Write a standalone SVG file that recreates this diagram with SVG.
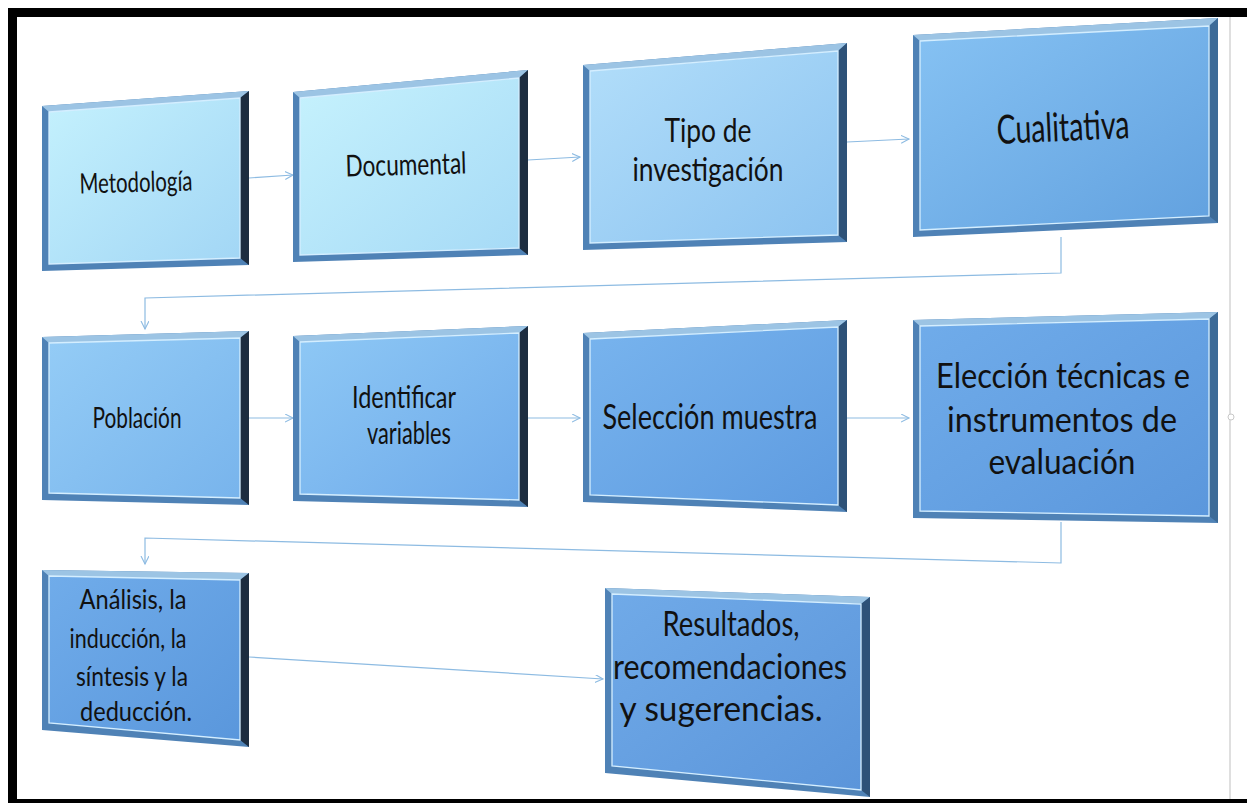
<svg xmlns="http://www.w3.org/2000/svg" width="1247" height="803" viewBox="0 0 1247 803">
<defs>
<style>
.frame{fill:#4f82b6}
.top{fill:#9cc4e4}
.rt{fill:#1d2d40}
.rtm{fill:#2e5278}
.rtl{fill:#3d6b98}
.in{stroke:#d4eeff;stroke-width:1.3}
.lbl{font-family:Lato,"Open Sans","Liberation Sans",sans-serif;fill:#111;text-anchor:middle}
.con{fill:none;stroke:#8dbbe2;stroke-width:1.2}
</style>
<marker id="arr" markerWidth="10" markerHeight="10" refX="8" refY="4" orient="auto" markerUnits="userSpaceOnUse">
<path d="M0,0 L8,4 L0,8" fill="none" stroke="#8dbbe2" stroke-width="1.1"/>
</marker>
<linearGradient id="g1" x1="0" y1="0" x2="1" y2="1"><stop offset="0" stop-color="#c4f1fd"/><stop offset="1" stop-color="#a2d6f5"/></linearGradient>
<linearGradient id="g2" x1="0" y1="0" x2="1" y2="1"><stop offset="0" stop-color="#c6f2fd"/><stop offset="1" stop-color="#a6daf6"/></linearGradient>
<linearGradient id="g3" x1="0" y1="0" x2="1" y2="1"><stop offset="0" stop-color="#b2defa"/><stop offset="1" stop-color="#8cc3f0"/></linearGradient>
<linearGradient id="g4" x1="0" y1="0" x2="1" y2="1"><stop offset="0" stop-color="#86c2f3"/><stop offset="1" stop-color="#62a1df"/></linearGradient>
<linearGradient id="g5" x1="0" y1="0" x2="1" y2="1"><stop offset="0" stop-color="#94ccf6"/><stop offset="1" stop-color="#78b4ec"/></linearGradient>
<linearGradient id="g6" x1="0" y1="0" x2="1" y2="1"><stop offset="0" stop-color="#8ec8f5"/><stop offset="1" stop-color="#6eaaea"/></linearGradient>
<linearGradient id="g7" x1="0" y1="0" x2="1" y2="1"><stop offset="0" stop-color="#78b4ee"/><stop offset="1" stop-color="#5e9be0"/></linearGradient>
<linearGradient id="g8" x1="0" y1="0" x2="1" y2="1"><stop offset="0" stop-color="#70acea"/><stop offset="1" stop-color="#5b97dc"/></linearGradient>
<linearGradient id="g9" x1="0" y1="0" x2="1" y2="1"><stop offset="0" stop-color="#70acea"/><stop offset="1" stop-color="#5a97dc"/></linearGradient>
<linearGradient id="g10" x1="0" y1="0" x2="1" y2="1"><stop offset="0" stop-color="#70aae8"/><stop offset="1" stop-color="#5b95da"/></linearGradient>
</defs>
<rect width="1247" height="803" fill="#ffffff"/>

<g id="frame-border">
<rect x="8" y="8" width="1239" height="9" fill="#000"/>
<rect x="8" y="8" width="9" height="795" fill="#000"/>
<rect x="8" y="799" width="1239" height="4" fill="#000"/>
<line x1="1230" y1="17" x2="1230" y2="799" stroke="#d4d4d4" stroke-width="1.5"/>
<circle cx="1231" cy="417" r="3" fill="#fff" stroke="#c8c8c8" stroke-width="1"/>
</g>

<g id="connectors">
<path class="con" d="M249,178 L293,175" marker-end="url(#arr)"/>
<path class="con" d="M528,160 L580,157" marker-end="url(#arr)"/>
<path class="con" d="M847,142 L909,139" marker-end="url(#arr)"/>
<path class="con" d="M1061,237 L1061,273 L145,298 L145,329" marker-end="url(#arr)"/>
<path class="con" d="M249,418 L293,418" marker-end="url(#arr)"/>
<path class="con" d="M528,418 L580,418" marker-end="url(#arr)"/>
<path class="con" d="M847,418 L909,418" marker-end="url(#arr)"/>
<path class="con" d="M1061,522 L1061,563 L145,538 L145,564" marker-end="url(#arr)"/>
<path class="con" d="M249,657 L603,679" marker-end="url(#arr)"/>
</g>

<g id="n-metodologia">
<polygon class="frame" points="42,106 249,91 249,265 42,271"/>
<polygon class="top" points="42,106 249,91 240,98 49,112"/>
<polygon class="rt" points="240,98 249,91 249,265 240,258"/>
<polygon class="in" fill="url(#g1)" points="49,112 240,98 240,258 49,264"/>
<text class="lbl" font-size="28" x="136" y="192" textLength="113" lengthAdjust="spacingAndGlyphs" transform="rotate(-1.5 136 185)">Metodología</text>
</g>

<g id="n-documental">
<polygon class="frame" points="293,92 528,70 528,255 293,262"/>
<polygon class="top" points="293,92 528,70 519,78 300,98"/>
<polygon class="rt" points="519,78 528,70 528,255 519,248"/>
<polygon class="in" fill="url(#g2)" points="300,98 519,78 519,248 300,255"/>
<text class="lbl" font-size="30" x="406" y="175" textLength="121" lengthAdjust="spacingAndGlyphs" transform="rotate(-1.5 406 166)">Documental</text>
</g>

<g id="n-tipo">
<polygon class="frame" points="583,65 847,43 847,242 583,250"/>
<polygon class="top" points="583,65 847,43 838,51 590,71"/>
<polygon class="rtm" points="838,51 847,43 847,242 838,235"/>
<polygon class="in" fill="url(#g3)" points="590,71 838,51 838,235 590,243"/>
<text class="lbl" font-size="33" x="708" y="142" textLength="87" lengthAdjust="spacingAndGlyphs">Tipo de</text>
<text class="lbl" font-size="33" x="708" y="181" textLength="151" lengthAdjust="spacingAndGlyphs">investigación</text>
</g>

<g id="n-cualitativa">
<polygon class="frame" points="913,35 1218,18 1218,223 913,237"/>
<polygon class="top" points="913,35 1218,18 1209,26 920,41"/>
<polygon class="rtl" points="1209,26 1218,18 1218,223 1209,216"/>
<polygon class="in" fill="url(#g4)" points="920,41 1209,26 1209,216 920,230"/>
<text class="lbl" font-size="40" x="1063" y="141" textLength="133" lengthAdjust="spacingAndGlyphs" transform="rotate(-2.5 1063 128)">Cualitativa</text>
</g>

<g id="n-poblacion">
<polygon class="frame" points="42,337 249,331 249,505 42,500"/>
<polygon class="top" points="42,337 249,331 240,338 49,343"/>
<polygon class="rt" points="240,338 249,331 249,505 240,498"/>
<polygon class="in" fill="url(#g5)" points="49,343 240,338 240,498 49,493"/>
<text class="lbl" font-size="29" x="137" y="428" textLength="89" lengthAdjust="spacingAndGlyphs">Población</text>
</g>

<g id="n-identificar">
<polygon class="frame" points="293,336 528,326 528,507 293,501"/>
<polygon class="top" points="293,336 528,326 519,333 300,342"/>
<polygon class="rt" points="519,333 528,326 528,507 519,500"/>
<polygon class="in" fill="url(#g6)" points="300,342 519,333 519,500 300,494"/>
<text class="lbl" font-size="30" x="404" y="408" textLength="104" lengthAdjust="spacingAndGlyphs">Identificar</text>
<text class="lbl" font-size="30" x="409" y="444" textLength="84" lengthAdjust="spacingAndGlyphs">variables</text>
</g>

<g id="n-seleccion">
<polygon class="frame" points="583,333 847,320 847,512 583,502"/>
<polygon class="top" points="583,333 847,320 838,327 590,339"/>
<polygon class="rtm" points="838,327 847,320 847,512 838,505"/>
<polygon class="in" fill="url(#g7)" points="590,339 838,327 838,505 590,495"/>
<text class="lbl" font-size="34" x="710" y="429" textLength="215" lengthAdjust="spacingAndGlyphs">Selección muestra</text>
</g>

<g id="n-eleccion">
<polygon class="frame" points="913,320 1218,312 1218,523 913,518"/>
<polygon class="top" points="913,320 1218,312 1209,319 920,326"/>
<polygon class="rtl" points="1209,319 1218,312 1218,523 1209,516"/>
<polygon class="in" fill="url(#g8)" points="920,326 1209,319 1209,516 920,511"/>
<text class="lbl" font-size="35" x="1063" y="388" textLength="254" lengthAdjust="spacingAndGlyphs">Elección técnicas e</text>
<text class="lbl" font-size="35" x="1062" y="432" textLength="230" lengthAdjust="spacingAndGlyphs">instrumentos de</text>
<text class="lbl" font-size="35" x="1062" y="474" textLength="147" lengthAdjust="spacingAndGlyphs">evaluación</text>
</g>

<g id="n-analisis">
<polygon class="frame" points="42,570 249,573 249,747 42,730"/>
<polygon class="top" points="42,570 249,573 240,580 49,576"/>
<polygon class="rt" points="240,580 249,573 249,747 240,740"/>
<polygon class="in" fill="url(#g9)" points="49,576 240,580 240,740 49,723"/>
<text class="lbl" font-size="27" x="133" y="609" textLength="107" lengthAdjust="spacingAndGlyphs">Análisis, la</text>
<text class="lbl" font-size="27" x="128" y="648" textLength="117" lengthAdjust="spacingAndGlyphs">inducción, la</text>
<text class="lbl" font-size="27" x="132" y="686" textLength="112" lengthAdjust="spacingAndGlyphs">síntesis y la</text>
<text class="lbl" font-size="27" x="136" y="721" textLength="112" lengthAdjust="spacingAndGlyphs">deducción.</text>
</g>

<g id="n-resultados">
<polygon class="frame" points="605,588 870,597 870,797 605,773"/>
<polygon class="top" points="605,588 870,597 861,604 612,594"/>
<polygon class="rtm" points="861,604 870,597 870,797 861,790"/>
<polygon class="in" fill="url(#g10)" points="612,594 861,604 861,790 612,766"/>
<text class="lbl" font-size="35" x="731" y="636" textLength="137" lengthAdjust="spacingAndGlyphs">Resultados,</text>
<text class="lbl" font-size="35" x="730" y="679" textLength="234" lengthAdjust="spacingAndGlyphs">recomendaciones</text>
<text class="lbl" font-size="35" x="721" y="721" textLength="203" lengthAdjust="spacingAndGlyphs">y sugerencias.</text>
</g>
</svg>
